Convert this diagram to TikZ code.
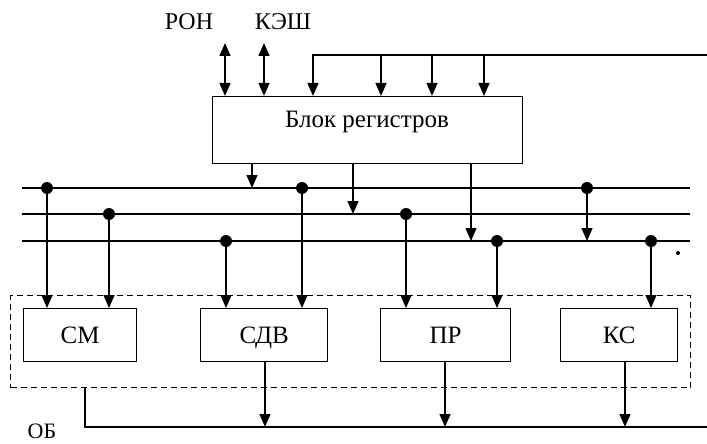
\documentclass[tikz,border=0pt]{standalone}
\usepackage{fontspec}
\setmainfont{Liberation Serif}
\usetikzlibrary{arrows.meta}
\begin{document}
\begin{tikzpicture}[x=1pt,y=-1pt,
  wire/.style={line width=1.4pt},
  arr/.style={wire,-{Triangle[width=11pt,length=13pt]}},
  biarr/.style={wire,{Triangle[width=11pt,length=13pt]}-{Triangle[width=11pt,length=13pt]}},
  unit/.style={draw,line width=1.3pt,inner sep=0pt,text height=17pt,text depth=0pt,font=\fontsize{25}{27}\selectfont},
  lbl/.style={inner sep=0pt,font=\fontsize{25}{27}\selectfont},
  dot/.style={circle,fill=black,inner sep=0pt,minimum size=12pt},
  grpbox/.style={draw,line width=1.3pt,dash pattern=on 6pt off 4pt,inner sep=0pt}]
\useasboundingbox (0,0) rectangle (707,444);

% units
\node[unit,minimum width=310pt,minimum height=67pt,anchor=north west] (blk) at (212,96) {};
\node[lbl,anchor=base] (blktxt) at (367,128) {Блок регистров};
\node[grpbox,minimum width=680pt,minimum height=92pt,anchor=north west] (grp) at (10,295) {};
\node[unit,minimum width=113pt,minimum height=53pt,anchor=north west] (cm) at (23,308) {СМ};
\node[unit,minimum width=127pt,minimum height=53pt,anchor=north west] (sdv) at (200,308) {СДВ};
\node[unit,minimum width=130pt,minimum height=53pt,anchor=north west] (pr) at (380,308) {ПР};
\node[unit,minimum width=117pt,minimum height=53pt,anchor=north west] (ks) at (560,308) {КС};

% labels
\node[lbl,anchor=base,font=\fontsize{24}{26}\selectfont] (ron) at (189,30) {РОН};
\node[lbl,anchor=base,font=\fontsize{24}{26}\selectfont] (kesh) at (283,30) {КЭШ};
\node[lbl,anchor=base,font=\fontsize{22}{24}\selectfont] (ob) at (42,438) {ОБ};

% top interface
\coordinate (ront) at (225,43);
\coordinate (kesht) at (264,43);
\draw[biarr] (ront) -- (ront |- blk.north);
\draw[biarr] (kesht) -- (kesht |- blk.north);
\coordinate (tr) at (707,55);
\coordinate (tc) at (313,55);
\draw[arr] (tr) -- (tc) -- (tc |- blk.north);
\foreach \x/\n in {381/a,432/b,484/c}{
  \coordinate (t\n) at (\x,55);
  \draw[arr] (t\n) -- (t\n |- blk.north);
}

% buses
\coordinate (b1l) at (22,188); \coordinate (b1r) at (690,188);
\coordinate (b2l) at (22,214); \coordinate (b2r) at (690,214);
\coordinate (b3l) at (22,241); \coordinate (b3r) at (690,241);
\draw[wire] (b1l) -- (b1r);
\draw[wire] (b2l) -- (b2r);
\draw[wire] (b3l) -- (b3r);

% block register outputs to buses
\coordinate (o1) at (252,188);
\coordinate (o2) at (353,214);
\coordinate (o3) at (471,241);
\draw[arr] (o1 |- blk.south) -- (o1);
\draw[arr] (o2 |- blk.south) -- (o2);
\draw[arr] (o3 |- blk.south) -- (o3);

% taps
\node[dot] (d1) at (47,188) {};
\node[dot] (d2) at (109,214) {};
\node[dot] (d3) at (226,241) {};
\node[dot] (d4) at (302,188) {};
\node[dot] (d5) at (406,214) {};
\node[dot] (d6) at (497,241) {};
\node[dot] (d7) at (587,188) {};
\node[dot] (d8) at (651,241) {};
\draw[arr] (d1.center) -- (d1 |- cm.north);
\draw[arr] (d2.center) -- (d2 |- cm.north);
\draw[arr] (d3.center) -- (d3 |- sdv.north);
\draw[arr] (d4.center) -- (d4 |- sdv.north);
\draw[arr] (d5.center) -- (d5 |- pr.north);
\draw[arr] (d6.center) -- (d6 |- pr.north);
\draw[arr] (d8.center) -- (d8 |- ks.north);
\coordinate (d7e) at (587,241);
\draw[arr] (d7.center) -- (d7e);

% stray mark
\fill (678,253) circle (2pt);

% output bus
\coordinate (obl) at (85,427);
\coordinate (obr) at (707,427);
\draw[wire] (obl |- grp.south) -- (obl) -- (obr);
\coordinate (s1) at (265,427);
\coordinate (s2) at (445,427);
\coordinate (s3) at (625,427);
\draw[arr] (s1 |- sdv.south) -- (s1);
\draw[arr] (s2 |- pr.south) -- (s2);
\draw[arr] (s3 |- ks.south) -- (s3);
\end{tikzpicture}
\end{document}
